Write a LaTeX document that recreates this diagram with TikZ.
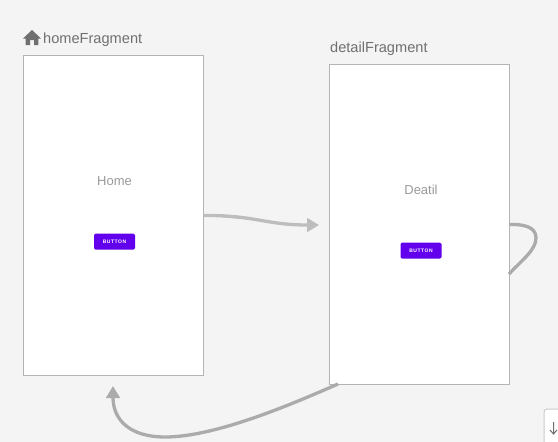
\documentclass[tikz,border=0pt]{standalone}
\usepackage{fontspec}
\setmainfont{Liberation Sans}
\usetikzlibrary{arrows.meta}
\definecolor{bg}{HTML}{F4F4F4}
\definecolor{frameg}{HTML}{B4B4B4}
\definecolor{linkg}{HTML}{ABABAB}
\definecolor{linkl}{HTML}{BDBDBD}
\definecolor{labelg}{HTML}{707070}
\definecolor{innerg}{HTML}{9A9A9A}
\definecolor{btn}{HTML}{6200EE}
\tikzset{
  x=1pt,y=-1pt,
  screen/.style={draw=frameg,line width=1.8pt,fill=white,minimum width=180pt,minimum height=320pt,inner sep=0pt,outer sep=0pt,anchor=north west},
  title/.style={text=labelg,font=\fontsize{14.6}{16}\selectfont,inner sep=0pt,anchor=base west},
  inner/.style={text=innerg,font=\fontsize{13}{15}\selectfont,inner sep=0pt,anchor=base},
  btnbox/.style={fill=btn,rounded corners=1.5pt,minimum width=41pt,minimum height=16pt,inner sep=0pt,text=white,font=\bfseries\fontsize{5}{6}\selectfont\addfontfeature{LetterSpace=10}},
  link/.style={draw=linkg,line width=3.3pt},
  linktip/.style={-{Triangle[length=12pt,width=13.5pt]}},
}
\begin{document}
\begin{tikzpicture}
\useasboundingbox[fill=bg] (0,0) rectangle (558,442);
\node[screen] (home) at (23.5,55.5) {};
\node[screen] (detail) at (329.5,64.5) {};
\node[title] (homet) at (43,43) {homeFragment};
\node[title] (detailt) at (330,52) {detailFragment};
\fill[labelg] (32,30) -- (41,38.5) -- (38.4,38.5) -- (38.4,45) -- (34,45) -- (34,40) -- (30,40) -- (30,45) -- (25.6,45) -- (25.6,38.5) -- (23,38.5) -- cycle;
\node[inner] (homel) at (114.5,185) {Home};
\node[inner] (detaill) at (421,194) {Deatil};
\node[btnbox] (homeb) at (114.5,241.5) {BUTTON};
\node[btnbox] (detailb) at (421,250.5) {BUTTON};
\coordinate (t1) at (319,225);
\coordinate (t2) at (113,386);
\coordinate (s3) at (338,384);
\coordinate (l1) at (509.5,224.5);
\coordinate (l2) at (509,274);
\draw[link,draw=linkl,fill=linkl,linktip] (home.east) .. controls (255,215) and (265,225) .. (t1);
\draw[link] (l1) .. controls (530,224) and (536,230) .. (536,238) .. controls (536,250) and (522,260) .. (l2);
\draw[link,linktip] (s3) .. controls (290,405) and (215,437) .. (165,437) .. controls (130,437) and (113,420) .. (t2);
\draw[draw=frameg!70,fill=white,line width=1pt,rounded corners=3pt] (544,460) -- (544,409) -- (570,409) -- (570,460);
\draw[labelg,line width=1pt] (553.5,422) -- (553.5,434) (550,430) -- (553.5,434) -- (557,430);
\end{tikzpicture}
\end{document}
